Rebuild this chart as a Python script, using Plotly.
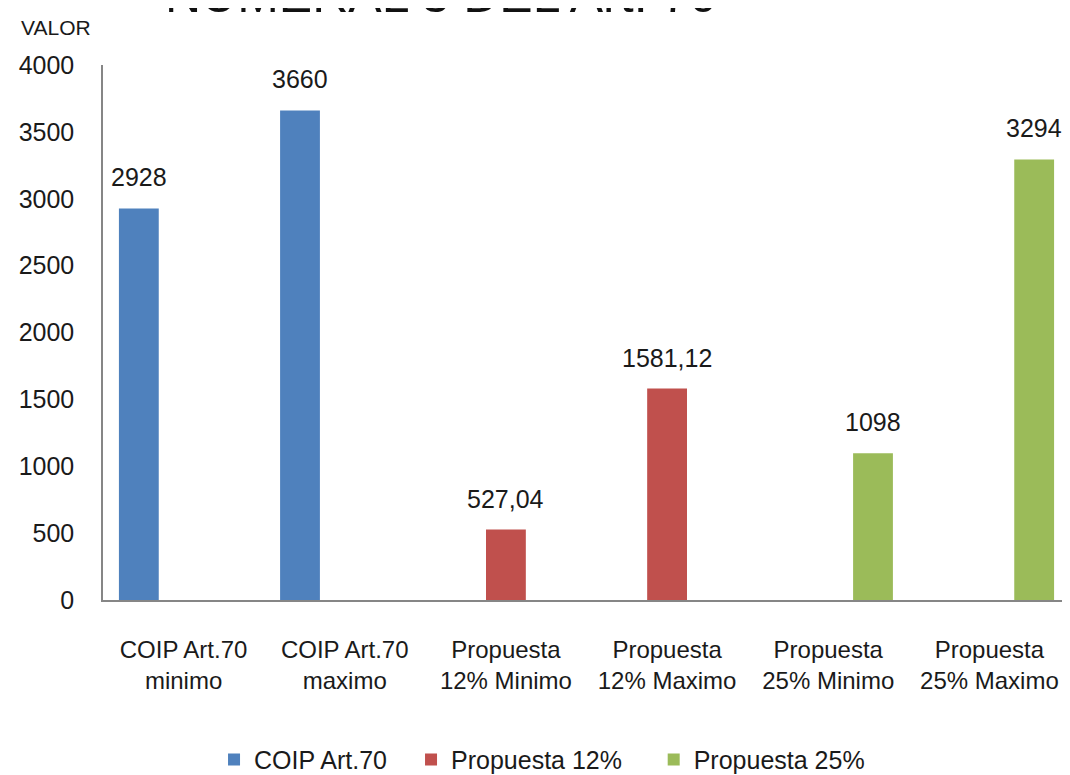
import plotly.graph_objects as go

categories = ["COIP Art.70<br>minimo", "COIP Art.70<br>maximo",
              "Propuesta<br>12% Minimo", "Propuesta<br>12% Maximo",
              "Propuesta<br>25% Minimo", "Propuesta<br>25% Maximo"]
series_names = ["COIP Art.70", "Propuesta 12%", "Propuesta 25%"]
coip = [2928, 3660, None, None, None, None]
prop12 = [None, None, 527.04, 1581.12, None, None]
prop25 = [None, None, None, None, 1098, 3294]
colors = ["#4F81BD", "#C0504D", "#9BBB59"]
y_ticks = [0, 500, 1000, 1500, 2000, 2500, 3000, 3500, 4000]

FONT = "Liberation Sans"
TXT = "#1a1a1a"
fig = go.Figure()
all_series = [coip, prop12, prop25]
legend_ids = ["legend", "legend2", "legend3"]
legend_x = [0.194, 0.3795, 0.608]
slot = 44.8
for i, (name, vals, col) in enumerate(zip(series_names, all_series, colors)):
    fig.add_trace(go.Bar(x=categories, y=vals, name=name, marker_color=col,
                         marker_line_width=0, legend=legend_ids[i]))
    for c, v in zip(categories, vals):
        if v is None:
            continue
        fig.add_annotation(x=c, y=v, xref="x", yref="y", text=f"{v:g}".replace(".", ","),
                           showarrow=False, yanchor="bottom", yshift=15,
                           xshift=(i - 1) * slot,
                           font=dict(family=FONT, size=25, color=TXT))

fig.add_annotation(x=0.35, y=1.075, xref="paper", yref="paper", text="NUMERAL 3 DEL Art. 70",
                   showarrow=False, yanchor="bottom", xanchor="center",
                   font=dict(family=FONT, size=50, color="#111111"))
fig.add_annotation(x=-0.087, y=1.071, xref="paper", yref="paper", text="VALOR",
                   showarrow=False, yanchor="middle", xanchor="left",
                   font=dict(family=FONT, size=21, color=TXT))

legend_style = dict(orientation="h", xref="container", yref="container",
                    xanchor="left", y=0.02, yanchor="middle",
                    font=dict(family=FONT, size=25, color=TXT), bgcolor="rgba(0,0,0,0)")
fig.update_layout(
    width=1062, height=767,
    margin=dict(l=95, r=0, t=57, b=175),
    paper_bgcolor="white", plot_bgcolor="white",
    barmode="group", bargap=0.167, bargroupgap=0.11,
    font=dict(family=FONT, size=24, color=TXT),
    showlegend=True,
    legend=dict(x=legend_x[0], **legend_style),
    legend2=dict(x=legend_x[1], **legend_style),
    legend3=dict(x=legend_x[2], **legend_style),
)
fig.update_xaxes(showline=True, linecolor="#868686", linewidth=1.5, showgrid=False,
                 ticks="", ticklabelstandoff=27, tickfont=dict(size=24))
fig.update_yaxes(range=[0, 4000], tickvals=y_ticks, showline=True, linecolor="#868686",
                 linewidth=1.5, showgrid=False, zeroline=False, ticks="",
                 ticklabelstandoff=22, tickfont=dict(size=25))

fig.write_html("out.html")
